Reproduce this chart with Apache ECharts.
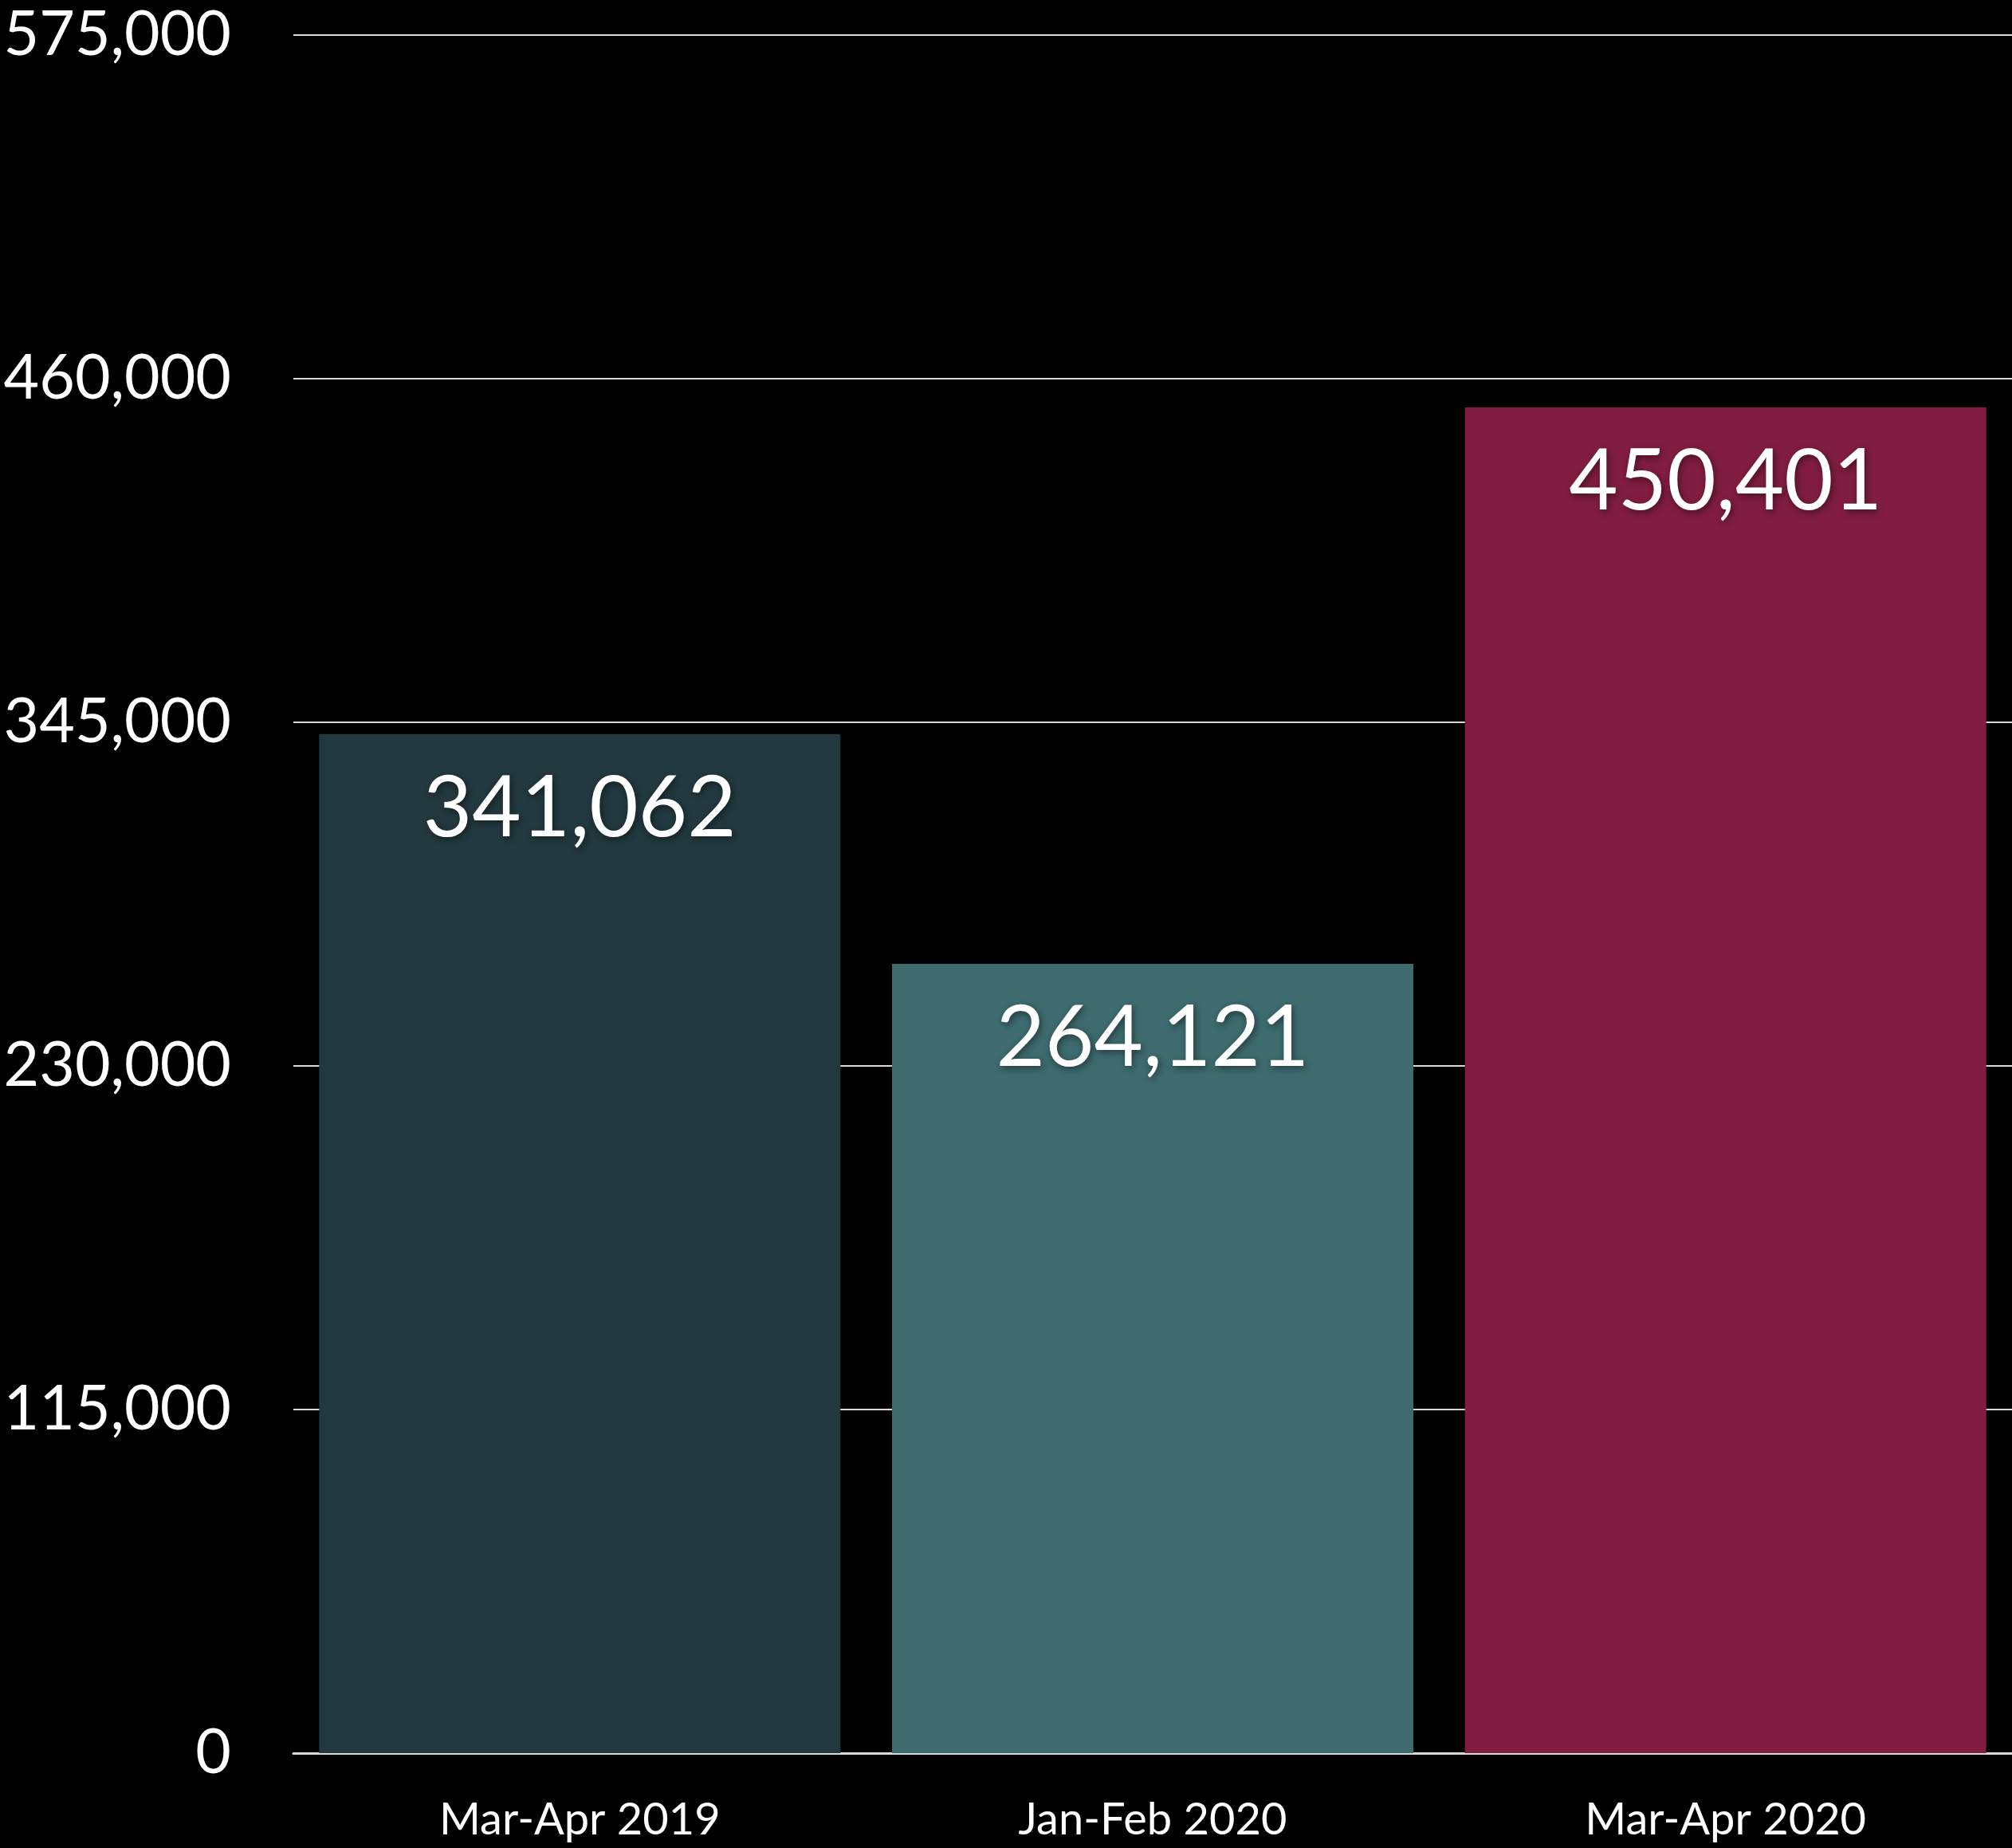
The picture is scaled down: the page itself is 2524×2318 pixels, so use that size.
<!DOCTYPE html>
<html><head><meta charset="utf-8">
<script src="https://cdn.jsdelivr.net/npm/echarts@6/dist/echarts.min.js"></script>
<style>html,body{margin:0;padding:0;background:#000;}#c{width:2524px;height:2318px;}</style>
</head><body><div id="c"></div>
<script>
const categories = ["Mar-Apr 2019", "Jan-Feb 2020", "Mar-Apr 2020"];
const values = [341062, 264121, 450401];
const barColors = ["#22393F", "#3D6B6E", "#801D41"];
const yTicks = [0, 115000, 230000, 345000, 460000, 575000];

const fmt = v => v.toLocaleString('en-US');
const chart = echarts.init(document.getElementById('c'));
chart.setOption({
  backgroundColor: '#000000',
  animation: false,
  grid: {left: 368, right: -5, top: 44, bottom: 119, containLabel: false},
  xAxis: {
    type: 'category', data: categories,
    axisLine: {show: true, lineStyle: {color: '#D9D9D9', width: 3}},
    axisTick: {show: false},
    axisLabel: {color: '#FFFFFF', fontFamily: 'Lato', fontSize: 56, margin: 56}
  },
  yAxis: {
    type: 'value', min: yTicks[0], max: yTicks[yTicks.length - 1], interval: yTicks[1] - yTicks[0],
    axisLine: {show: false}, axisTick: {show: false},
    splitLine: {lineStyle: {color: '#D9D9D9', width: 2}},
    axisLabel: {color: '#FFFFFF', fontFamily: 'Lato', fontSize: 77, margin: 78, formatter: v => fmt(v)}
  },
  series: [{
    type: 'bar', barCategoryGap: '9%',
    data: values.map((v, i) => ({value: v, itemStyle: {color: barColors[i]}})),
    label: {
      show: true, position: 'insideTop', distance: 41,
      color: '#FFFFFF', fontFamily: 'Lato', fontSize: 106,
      formatter: p => fmt(p.value),
      textShadowColor: 'rgba(0,0,0,0.45)', textShadowBlur: 8, textShadowOffsetX: 2, textShadowOffsetY: 3
    }
  }]
});
</script></body></html>
